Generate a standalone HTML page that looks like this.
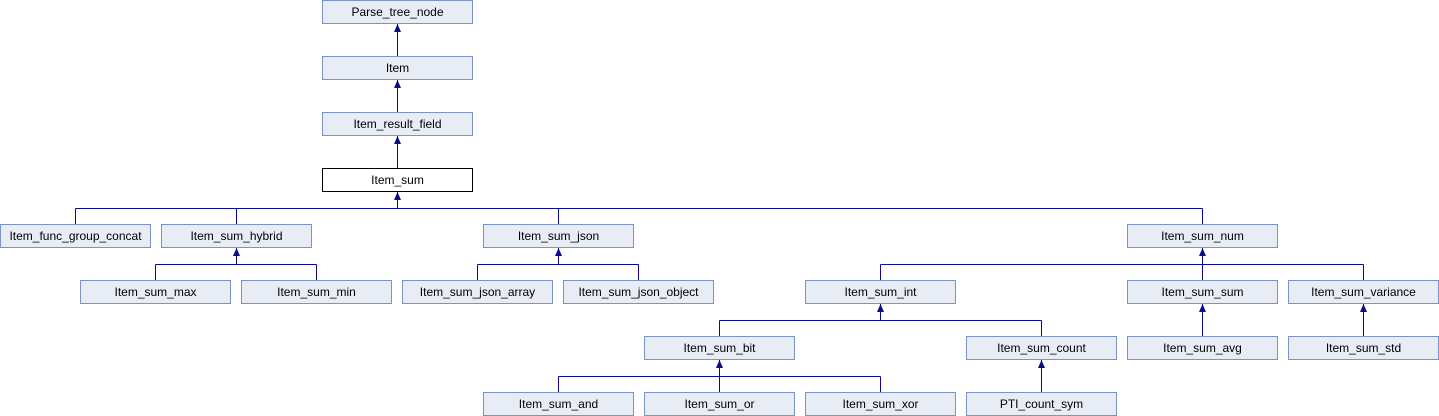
<!DOCTYPE html>
<html><head><meta charset="utf-8"><style>
html,body{margin:0;padding:0;background:#fff;width:1439px;height:416px;overflow:hidden}
text{font-family:"Liberation Sans",Arial,sans-serif;font-size:12px;fill:#000}
</style></head><body>
<svg width="1439" height="416" xmlns="http://www.w3.org/2000/svg">
<g stroke="#0b0b8f" stroke-width="1" fill="none">
<!-- vertical single links -->
<path d="M397.5 24V56M397.5 80V112M397.5 136V168"/>
<!-- Item_sum children -->
<path d="M397.5 192V208.5M75.5 208.5H1202.5M75.5 208.5V224M236.5 208.5V224M558.5 208.5V224M1202.5 208.5V224"/>
<!-- hybrid -->
<path d="M236.5 248V264.5M155.5 264.5H316.5M155.5 264.5V280M316.5 264.5V280"/>
<!-- json -->
<path d="M558.5 248V264.5M477.5 264.5H638.5M477.5 264.5V280M638.5 264.5V280"/>
<!-- num -->
<path d="M1202.5 248V280M880.5 264.5H1363.5M880.5 264.5V280M1363.5 264.5V280"/>
<!-- int -->
<path d="M880.5 304V320.5M719.5 320.5H1041.5M719.5 320.5V336M1041.5 320.5V336"/>
<path d="M1202.5 304V336M1363.5 304V336"/>
<!-- bit -->
<path d="M719.5 360V376.5M558.5 376.5H880.5M558.5 376.5V392M719.5 376.5V392M880.5 376.5V392"/>
<path d="M1041.5 360V392"/>
</g>
<g fill="#0b0b8f">
<path d="M397.5 24l-3.5 8h7z"/><path d="M397.5 80l-3.5 8h7z"/><path d="M397.5 136l-3.5 8h7z"/><path d="M397.5 192l-3.5 8h7z"/>
<path d="M236.5 248l-3.5 8h7z"/><path d="M558.5 248l-3.5 8h7z"/><path d="M1202.5 248l-3.5 8h7z"/>
<path d="M880.5 304l-3.5 8h7z"/><path d="M1202.5 304l-3.5 8h7z"/><path d="M1363.5 304l-3.5 8h7z"/>
<path d="M719.5 360l-3.5 8h7z"/><path d="M1041.5 360l-3.5 8h7z"/>
</g>
<g stroke="#7b94c8" fill="#e8ecf5">
<rect x="322.5" y="0.5" width="150" height="23"/>
<rect x="322.5" y="56.5" width="150" height="23"/>
<rect x="322.5" y="112.5" width="150" height="23"/>
<rect x="0.5" y="224.5" width="150" height="23"/>
<rect x="161.5" y="224.5" width="150" height="23"/>
<rect x="483.5" y="224.5" width="150" height="23"/>
<rect x="1127.5" y="224.5" width="150" height="23"/>
<rect x="80.5" y="280.5" width="150" height="23"/>
<rect x="241.5" y="280.5" width="150" height="23"/>
<rect x="402.5" y="280.5" width="150" height="23"/>
<rect x="563.5" y="280.5" width="150" height="23"/>
<rect x="805.5" y="280.5" width="150" height="23"/>
<rect x="1127.5" y="280.5" width="150" height="23"/>
<rect x="1288.5" y="280.5" width="150" height="23"/>
<rect x="644.5" y="336.5" width="150" height="23"/>
<rect x="966.5" y="336.5" width="150" height="23"/>
<rect x="1127.5" y="336.5" width="150" height="23"/>
<rect x="1288.5" y="336.5" width="150" height="23"/>
<rect x="483.5" y="392.5" width="150" height="23"/>
<rect x="644.5" y="392.5" width="150" height="23"/>
<rect x="805.5" y="392.5" width="150" height="23"/>
<rect x="966.5" y="392.5" width="150" height="23"/>
</g>
<rect x="322.5" y="168.5" width="150" height="23" fill="#fff" stroke="#000"/>
<g text-anchor="middle">
<text x="397.5" y="16">Parse_tree_node</text>
<text x="397.5" y="72">Item</text>
<text x="397.5" y="128">Item_result_field</text>
<text x="397.5" y="184">Item_sum</text>
<text x="75.5" y="240">Item_func_group_concat</text>
<text x="236.5" y="240">Item_sum_hybrid</text>
<text x="558.5" y="240">Item_sum_json</text>
<text x="1202.5" y="240">Item_sum_num</text>
<text x="155.5" y="296">Item_sum_max</text>
<text x="316.5" y="296">Item_sum_min</text>
<text x="477.5" y="296">Item_sum_json_array</text>
<text x="638.5" y="296">Item_sum_json_object</text>
<text x="880.5" y="296">Item_sum_int</text>
<text x="1202.5" y="296">Item_sum_sum</text>
<text x="1363.5" y="296">Item_sum_variance</text>
<text x="719.5" y="352">Item_sum_bit</text>
<text x="1041.5" y="352">Item_sum_count</text>
<text x="1202.5" y="352">Item_sum_avg</text>
<text x="1363.5" y="352">Item_sum_std</text>
<text x="558.5" y="408">Item_sum_and</text>
<text x="719.5" y="408">Item_sum_or</text>
<text x="880.5" y="408">Item_sum_xor</text>
<text x="1041.5" y="408">PTI_count_sym</text>
</g>
</svg>
</body></html>
